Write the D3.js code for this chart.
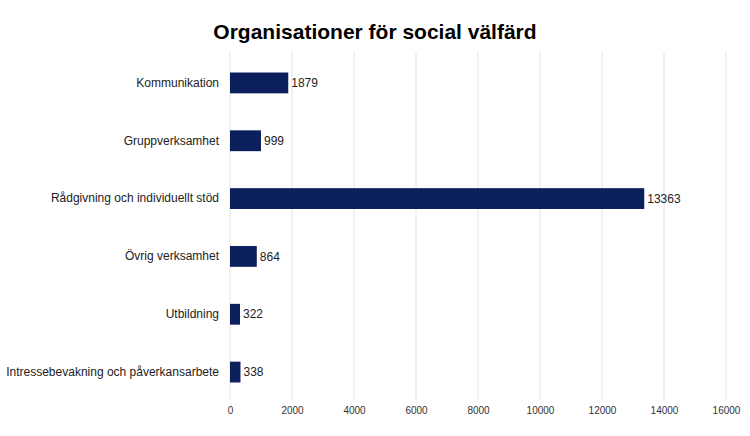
<!DOCTYPE html>
<html><head><meta charset="utf-8">
<script src="https://cdn.jsdelivr.net/npm/d3@7"></script>
<style>body{margin:0;background:#fff}svg{display:block}</style>
</head><body>
<script>
const title = "Organisationer för social välfärd";
const categories = ["Kommunikation","Gruppverksamhet","Rådgivning och individuellt stöd","Övrig verksamhet","Utbildning","Intressebevakning och påverkansarbete"];
const values = [1879, 999, 13363, 864, 322, 338];
const ticks = [0,2000,4000,6000,8000,10000,12000,14000,16000];

const W = 750, H = 436;
const svg = d3.select("body").append("svg").attr("width", W).attr("height", H);
const font = "'Liberation Sans', Arial, sans-serif";

const x = d3.scaleLinear().domain([0,16000]).range([230,726]);
const y = d3.scaleBand().domain(categories).range([54,401]).paddingInner(0.64).paddingOuter(0.32);

svg.append("text").attr("x", 375).attr("y", 39).attr("text-anchor","middle")
  .attr("font-family", font).attr("font-weight","bold").attr("font-size", 21).attr("fill","#000").text(title);

// gridlines
svg.append("g").selectAll("line").data(ticks).join("line")
  .attr("x1", d=>x(d)).attr("x2", d=>x(d)).attr("y1", 52).attr("y2", 400)
  .attr("stroke", "#e4e4e4").attr("stroke-width", 1);

// x axis labels
const xa = svg.append("g").attr("transform","translate(0,402)")
  .call(d3.axisBottom(x).tickValues(ticks).tickSize(0).tickPadding(5).tickFormat(d3.format("d")));
xa.select(".domain").remove();
xa.selectAll("text").attr("font-family", font).attr("font-size", 10).attr("fill","#333");

// y axis labels
const ya = svg.append("g").attr("transform","translate(219,0)")
  .call(d3.axisLeft(y).tickSize(0).tickPadding(0));
ya.select(".domain").remove();
ya.selectAll("text").attr("font-family", font).attr("font-size", 12).attr("fill","#222");

const data = categories.map((c,i)=>({c, v: values[i]}));
svg.append("g").selectAll("rect").data(data).join("rect")
  .attr("x", x(0)).attr("y", d=>y(d.c)).attr("width", d=>x(d.v)-x(0)).attr("height", y.bandwidth())
  .attr("fill", "#0b1f5c");

svg.append("g").selectAll("text").data(data).join("text")
  .attr("x", d=>x(d.v)+3).attr("y", d=>y(d.c)+y.bandwidth()/2).attr("dy","0.35em")
  .attr("font-family", font).attr("font-size", 12).attr("fill","#222").text(d=>d.v);
</script>
</body></html>
